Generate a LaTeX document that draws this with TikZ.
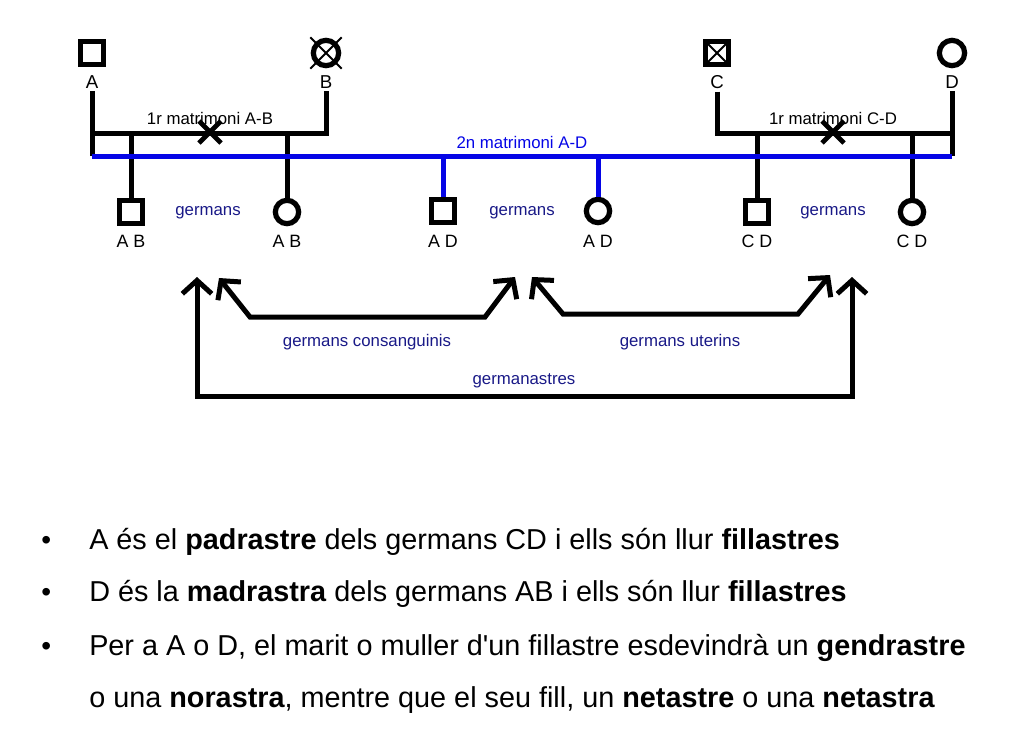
\documentclass[tikz,border=0pt]{standalone}
\usepackage{fontspec}
\setmainfont{Liberation Sans}
\usepackage{xcolor}
\usepackage{tikz}
\usetikzlibrary{arrows.meta, calc, shapes.misc}

\definecolor{navyblue}{RGB}{25,25,135}
\definecolor{wedblue}{RGB}{5,5,230}

\tikzset{
  kin/.style={line width=3.75pt},
  wed/.style={line width=3.75pt, draw=wedblue},
  male/.style={draw, line width=3.9pt, minimum size=17.5pt, inner sep=0pt},
  female/.style={draw, circle, line width=3.9pt, minimum size=17.5pt, inner sep=0pt},
  parentfemale/.style={female, minimum size=19pt},
  deceased/.style={cross out, draw, line width=1.5pt, minimum size=#1, inner sep=0pt},
  divorce/.style={cross out, draw, line width=3.5pt, minimum size=13pt, inner sep=0pt},
  who/.style={font=\fontsize{14}{16}\selectfont, inner sep=2pt},
  kid/.style={font=\fontsize{13.4}{15}\selectfont, inner sep=1pt},
  tag/.style={font=\fontsize{12.6}{14}\selectfont, inner sep=1pt},
  sib/.style={tag, text=navyblue},
  rel/.style={line width=3.75pt, {Straight Barb[length=10pt,width=22pt]}-{Straight Barb[length=10pt,width=22pt]}},
  item/.style={anchor=base west, font=\fontsize{21.6}{25}\selectfont, inner sep=0pt}
}

\begin{document}
\begin{tikzpicture}[x=0.75pt, y=-0.75pt]
  \useasboundingbox (0,0) rectangle (1024,744);

  % parents
  \node[male] (A) at (92,53) {};
  \node[parentfemale] (B) at (326,53) {};
  \node[deceased=22pt] at (B) {};
  \node[male] (C) at (717,53) {};
  \node[deceased=13pt] at (C) {};
  \node[parentfemale] (D) at (952,53) {};

  \node[who] (nA) at (92,82) {A};
  \node[who] (nB) at (326,82) {B};
  \node[who] (nC) at (717,82) {C};
  \node[who] (nD) at (952,82) {D};

  \coordinate (mAB) at (92,133);
  \coordinate (mCD) at (952,133);
  \coordinate (wA) at (92,156);
  \coordinate (wD) at (952,156);

  % children
  \node[male] (sAB) at (131,212) {};
  \node[female] (dAB) at (287,212) {};
  \node[male] (sAD) at (443,211) {};
  \node[female] (dAD) at (598,211) {};
  \node[male] (sCD) at (757,212) {};
  \node[female] (dCD) at (912,212) {};

  \node[kid] at (131,241) {A B};
  \node[kid] at (287,241) {A B};
  \node[kid] at (443,241) {A D};
  \node[kid] at (598,241) {A D};
  \node[kid] at (757,241) {C D};
  \node[kid] at (912,241) {C D};

  % first marriages
  \draw[kin] (nA) -- (wA);
  \draw[kin] (nB) |- (mAB);
  \draw[kin] (nC) |- (mCD);
  \draw[kin] (nD) -- (wD);
  \draw[kin] (sAB) -- (sAB |- mAB);
  \draw[kin] (dAB) -- (dAB |- mAB);
  \draw[kin] (sCD) -- (sCD |- mCD);
  \draw[kin] (dCD) -- (dCD |- mCD);

  \node[divorce] at (210,132) {};
  \node[divorce] at (833,132) {};
  \node[tag] at (210,118) {1r matrimoni A-B};
  \node[tag] at (833,118) {1r matrimoni C-D};

  % second marriage
  \draw[wed] (wA) -- (wD);
  \draw[wed] (sAD) -- (sAD |- wA);
  \draw[wed] (dAD) -- (dAD |- wA);
  \node[tag, text=wedblue] at (522,142) {2n matrimoni A-D};

  \node[sib] at (208,213) {germans};
  \node[sib] at (522,213) {germans};
  \node[sib] at (833,213) {germans};

  % relations
  \coordinate (tL) at (197,277);
  \coordinate (gL) at (197,396);
  \coordinate (gR) at (852,396);
  \coordinate (tR) at (852,277);
  \draw[rel] (tL) -- (gL) -- (gR) -- (tR);

  \coordinate (cL) at (219,278);
  \coordinate (cR) at (515,277);
  \draw[rel] (cL) -- (250,317) -- (485,317) -- (cR);

  \coordinate (uL) at (532,277);
  \coordinate (uR) at (830,275);
  \draw[rel] (uL) -- (563,314) -- (798,314) -- (uR);

  \node[sib] at (367,342) {germans consanguinis};
  \node[sib] at (680,342) {germans uterins};
  \node[sib] at (524,381) {germanastres};

  % bullets
  \foreach \y in {549,601,655}
    \node[item, font=\fontsize{21}{24}\selectfont] at (41,\y) {\textbullet};
  \node[item] (l1) at (89,549) {A és el \textbf{padrastre} dels germans CD i ells són llur \textbf{fillastres}};
  \node[item] (l2) at (89,601) {D és la \textbf{madrastra} dels germans AB i ells són llur \textbf{fillastres}};
  \node[item] (l3) at (89,655) {Per a A o D, el marit o muller d\textquotesingle un fillastre esdevindrà un \textbf{gendrastre}};
  \node[item] (l4) at (89,707) {o una \textbf{norastra}, mentre que el seu fill, un \textbf{netastre} o una \textbf{netastra}};
\end{tikzpicture}
\end{document}
